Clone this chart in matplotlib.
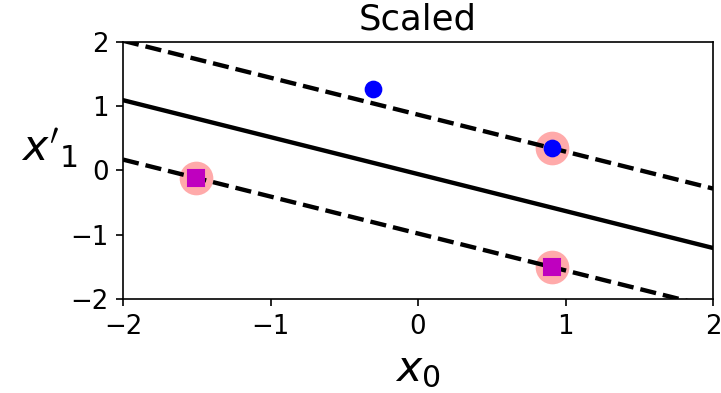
import numpy as np
import matplotlib
matplotlib.use("Agg")
import matplotlib.pyplot as plt

# Scaled data points
x0_points = [-1.508, 0.905, -0.302, 0.905]
x1_points = [-0.115, -1.501, 1.270, 0.346]
classes = [0, 0, 1, 1]

# Support vectors
sv_x0 = [-1.508, 0.905, 0.905]
sv_x1 = [-0.115, -1.501, 0.346]

# Decision function weights and bias (w0*x0 + w1*x1 + b = 0)
w = [0.622, 1.083]
b = 0.0625

xmin, xmax = -2, 2
ticks = [-2, -1, 0, 1, 2]

fig = plt.figure(figsize=(721 / 150, 393 / 150), dpi=150)
ax = fig.add_axes([0.1706, 0.239, 0.989 - 0.1706, 0.894 - 0.239])

x0 = np.linspace(xmin, xmax, 200)
boundary = -w[0] / w[1] * x0 - b / w[1]
margin = 1 / w[1]
gutter_up = boundary + margin
gutter_down = boundary - margin

ax.scatter(sv_x0, sv_x1, s=230, facecolors='#FFAAAA', zorder=1)
ax.plot(x0, boundary, "k-", linewidth=2.1)
ax.plot(x0, gutter_up, "k--", linewidth=2.1)
ax.plot(x0, gutter_down, "k--", linewidth=2.1)

xs = np.array(x0_points)
ys = np.array(x1_points)
cl = np.array(classes)
ax.plot(xs[cl == 1], ys[cl == 1], "bo", markersize=7.5)
ax.plot(xs[cl == 0], ys[cl == 0], "ms", markersize=7.5)

ax.set_xlim(xmin, xmax)
ax.set_ylim(-2, 2)
ax.set_xticks(ticks)
ax.set_yticks(ticks)
ax.tick_params(labelsize=12.5)
ax.set_xlabel("$x_0$", fontsize=20.5)
ax.set_ylabel("$x'_1$  ", fontsize=20.5, rotation=0, labelpad=6)
ax.set_title("Scaled", fontsize=17)

fig.savefig("out.png", dpi=150)
